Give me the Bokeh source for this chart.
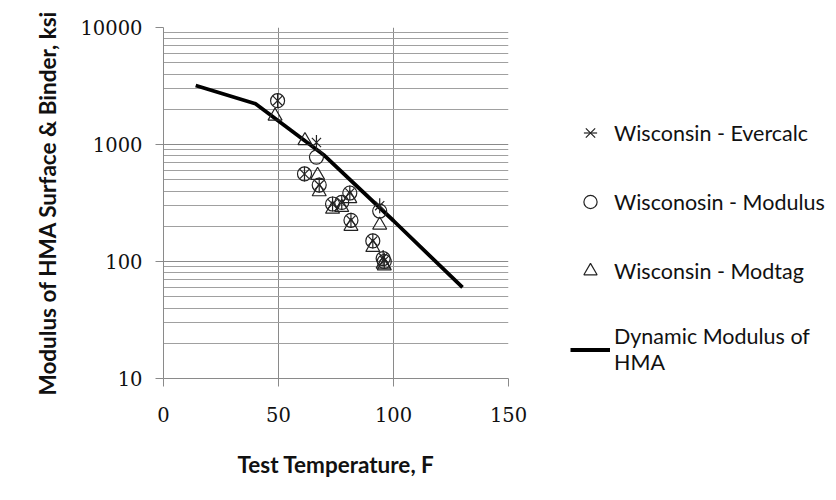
import math
from bokeh.plotting import figure
from bokeh.layouts import row
from bokeh.models import Legend, LegendItem, FixedTicker, PrintfTickFormatter
from bokeh.embed import file_html
from bokeh.resources import INLINE

# ---- data ----
dyn_temp = [14, 40, 70, 100, 130]
dyn_mod = [3190, 2230, 805, 223, 60]

ever_temp = [49.6, 66.5, 61.3, 67.7, 73.5, 77.5, 81.0, 81.5, 94.0, 91.0, 95.5, 96.0]
ever_mod = [2370, 1040, 560, 450, 310, 320, 385, 225, 300, 150, 108, 102]

modu_temp = [49.6, 66.5, 61.3, 67.7, 73.5, 77.5, 81.0, 81.5, 94.0, 91.0, 95.5, 96.0]
modu_mod = [2370, 780, 560, 450, 310, 320, 385, 225, 270, 150, 106, 100]

modt_temp = [48.5, 61.5, 67.0, 67.7, 73.5, 77.5, 81.0, 81.5, 94.0, 91.0, 95.5, 96.0]
modt_mod = [1750, 1080, 545, 395, 280, 290, 345, 200, 205, 132, 95, 92]

x_ticks = [0, 50, 100, 150]
y_ticks = [10, 100, 1000, 10000]

labels = ["Wisconsin - Evercalc", "Wisconosin - Modulus", "Wisconsin - Modtag",
          "Dynamic Modulus of\nHMA"]

INK = "#111111"
MARK = "#222222"


def add_series(fig):
    r_line = fig.line(dyn_temp, dyn_mod, line_color="black", line_width=3.8)
    r_tri = fig.scatter(modt_temp, modt_mod, marker="triangle", size=14,
                        fill_color=None, line_color=MARK, line_width=1.2)
    r_circ = fig.scatter(modu_temp, modu_mod, marker="circle", size=14,
                         fill_color=None, line_color=MARK, line_width=1.2)
    r_x = fig.scatter(ever_temp, ever_mod, marker="x", size=13,
                      line_color=MARK, line_width=1.2)
    r_v = fig.scatter(ever_temp, ever_mod, marker="dash", size=15,
                      angle=math.pi / 2, line_color=MARK, line_width=1.2)
    return r_line, r_tri, r_circ, r_x, r_v


# ---- main chart ----
p = figure(width=530, height=492, x_range=(0, 150), y_range=(10, 10000),
           y_axis_type="log", output_backend="svg", toolbar_location=None,
           min_border_left=163, min_border_right=22, min_border_top=27,
           min_border_bottom=114)
p.outline_line_color = None

minor = [m * d for d in y_ticks[:-1] for m in range(2, 10)]
p.yaxis.ticker = FixedTicker(ticks=y_ticks, minor_ticks=minor)
p.xaxis.ticker = FixedTicker(ticks=x_ticks)
p.yaxis.formatter = PrintfTickFormatter(format="%d")

grid_col = "#8a8a8a"
for ax in (p.xaxis[0], p.yaxis[0]):
    ax.axis_line_color = grid_col
    ax.major_tick_line_color = grid_col
    ax.major_tick_out = 8
    ax.major_tick_in = 0
    ax.minor_tick_out = 0
    ax.minor_tick_in = 0
    ax.major_label_text_font = "DejaVu Serif"
    ax.major_label_text_font_size = "19.5px"
    ax.major_label_text_color = INK
    ax.axis_label_text_font = "Lato"
    ax.axis_label_text_font_style = "bold"
    ax.axis_label_text_font_size = "22.5px"
    ax.axis_label_text_color = INK

p.yaxis.major_label_standoff = 13
p.xaxis.major_label_standoff = 20
p.yaxis.axis_label = "Modulus of HMA Surface & Binder, ksi"
p.xaxis.axis_label = "Test Temperature, F"
p.yaxis.axis_label_standoff = 16
p.xaxis.axis_label_standoff = 26

p.xgrid.grid_line_color = grid_col
p.ygrid.grid_line_color = grid_col
p.ygrid.minor_grid_line_color = "#a0a0a0"

add_series(p)

# ---- legend panel (same series, kept out of its view; only the legend shows) ----
q = figure(width=298, height=492, x_range=(1000, 1001), y_range=(-2, -1),
           output_backend="svg", toolbar_location=None,
           min_border_left=0, min_border_right=0, min_border_top=0,
           min_border_bottom=0, x_axis_location=None, y_axis_location=None)
q.outline_line_color = None
q.grid.visible = False
l_line, l_tri, l_circ, l_x, l_v = add_series(q)

legend = Legend(items=[
    LegendItem(label=labels[0], renderers=[l_x, l_v]),
    LegendItem(label=labels[1], renderers=[l_circ]),
    LegendItem(label=labels[2], renderers=[l_tri]),
    LegendItem(label=labels[3], renderers=[l_line]),
], location=(40, 3))
legend.border_line_color = None
legend.background_fill_alpha = 0
legend.margin = 0
legend.padding = 0
legend.glyph_width = 40
legend.glyph_height = 33
legend.label_standoff = 4
legend.spacing = 36
legend.label_text_font = "Lato"
legend.label_text_font_size = "21.5px"
legend.label_text_line_height = 1.4
legend.label_text_color = INK
q.add_layout(legend, "center")

layout = row(p, q)
open("out.html", "w").write(file_html(layout, INLINE))
